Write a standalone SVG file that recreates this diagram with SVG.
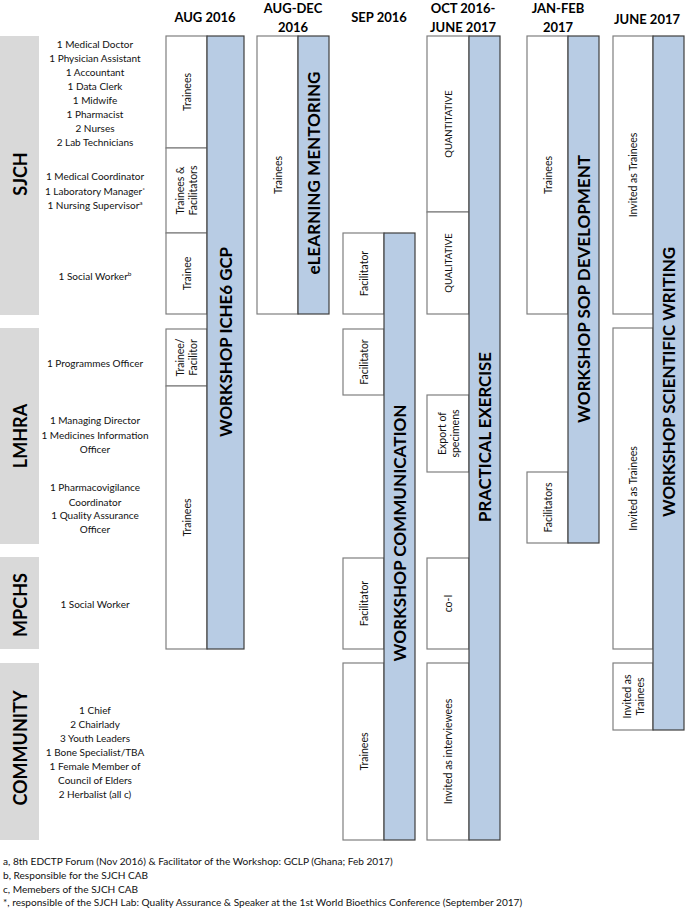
<svg xmlns="http://www.w3.org/2000/svg" width="685" height="910" viewBox="0 0 685 910">
<style>
.bg{fill:#ffffff}
.grp{fill:#d9d9d9}
.wb{fill:#ffffff;stroke:#7f7f7f;stroke-width:1.2}
.bb{fill:#b8cce4;stroke:#3f3f3f;stroke-width:1.2}
.hd{font-family:Lato,"Liberation Sans",sans-serif;font-weight:bold;font-size:13px;fill:#000;text-anchor:middle}
.gl{font-family:Lato,"Liberation Sans",sans-serif;font-weight:bold;font-size:18px;fill:#000;text-anchor:middle;dominant-baseline:central}
.lb{font-family:Lato,"Liberation Sans",sans-serif;font-size:10px;fill:#111;text-anchor:middle}
.rl{font-family:Lato,"Liberation Sans",sans-serif;font-size:10.5px;fill:#111;text-anchor:middle;dominant-baseline:central}
.rs{font-family:Lato,"Liberation Sans",sans-serif;font-size:9.5px;fill:#111;text-anchor:middle;dominant-baseline:central}
.bl{font-family:Lato,"Liberation Sans",sans-serif;font-weight:bold;font-size:17px;fill:#000;text-anchor:middle;dominant-baseline:central}
.fn{font-family:Lato,"Liberation Sans",sans-serif;font-size:10.1px;fill:#111}
.sup{font-size:6.5px}
</style>
<rect class="bg" x="0" y="0" width="685" height="910"/>

<g id="headers">
<text class="hd" x="205" y="22">AUG 2016</text>
<text class="hd" x="293" y="13">AUG-DEC</text>
<text class="hd" x="293" y="32">2016</text>
<text class="hd" x="379" y="22">SEP 2016</text>
<text class="hd" x="463" y="13">OCT 2016-</text>
<text class="hd" x="463" y="32">JUNE 2017</text>
<text class="hd" x="558" y="13">JAN-FEB</text>
<text class="hd" x="558" y="32">2017</text>
<text class="hd" x="647" y="24">JUNE 2017</text>
</g>

<g id="group-sjch">
<rect class="grp" x="0" y="36" width="39" height="279"/>
<text class="gl" transform="rotate(-90 20 174)" x="20" y="174">SJCH</text>
<text class="lb" x="95" y="48">1 Medical Doctor</text>
<text class="lb" x="95" y="62">1 Physician Assistant</text>
<text class="lb" x="95" y="76">1 Accountant</text>
<text class="lb" x="95" y="90">1 Data Clerk</text>
<text class="lb" x="95" y="104">1 Midwife</text>
<text class="lb" x="95" y="118">1 Pharmacist</text>
<text class="lb" x="95" y="132">2 Nurses</text>
<text class="lb" x="95" y="146">2 Lab Technicians</text>
<text class="lb" x="95" y="180">1 Medical Coordinator</text>
<text class="lb" x="95" y="195">1 Laboratory Manager<tspan class="sup" dy="-3">*</tspan></text>
<text class="lb" x="95" y="209">1 Nursing Supervisor<tspan class="sup" dy="-4">a</tspan></text>
<text class="lb" x="95" y="280">1 Social Worker<tspan class="sup" dy="-4">b</tspan></text>
</g>

<g id="group-lmhra">
<rect class="grp" x="0" y="328" width="39" height="216"/>
<text class="gl" transform="rotate(-90 20 436)" x="20" y="436">LMHRA</text>
<text class="lb" x="95" y="367">1 Programmes Officer</text>
<text class="lb" x="95" y="424">1 Managing Director</text>
<text class="lb" x="95" y="439">1 Medicines Information</text>
<text class="lb" x="95" y="453">Officer</text>
<text class="lb" x="95" y="491">1 Pharmacovigilance</text>
<text class="lb" x="95" y="506">Coordinator</text>
<text class="lb" x="95" y="519">1 Quality Assurance</text>
<text class="lb" x="95" y="533">Officer</text>
</g>

<g id="group-mpchs">
<rect class="grp" x="0" y="557" width="39" height="92"/>
<text class="gl" transform="rotate(-90 20 605)" x="20" y="605">MPCHS</text>
<text class="lb" x="95" y="608">1 Social Worker</text>
</g>

<g id="group-community">
<rect class="grp" x="0" y="663" width="39" height="177"/>
<text class="gl" transform="rotate(-90 20 748)" x="20" y="748">COMMUNITY</text>
<text class="lb" x="95" y="714">1 Chief</text>
<text class="lb" x="95" y="728">2 Chairlady</text>
<text class="lb" x="95" y="742">3 Youth Leaders</text>
<text class="lb" x="95" y="756">1 Bone Specialist/TBA</text>
<text class="lb" x="95" y="770">1 Female Member of</text>
<text class="lb" x="95" y="784">Council of Elders</text>
<text class="lb" x="95" y="798">2 Herbalist (all c)</text>
</g>

<g id="col-aug2016">
<rect class="wb" x="166" y="36" width="41" height="112"/>
<text class="rl" transform="rotate(-90 186.5 92)" x="186.5" y="92">Trainees</text>
<rect class="wb" x="166" y="148" width="41" height="85"/>
<text class="rl" transform="rotate(-90 186.5 190.5)" x="186.5" y="190.5"><tspan x="186.5" dy="-6.5">Trainees &amp;</tspan><tspan x="186.5" dy="13">Facilitators</tspan></text>
<rect class="wb" x="166" y="233" width="41" height="81"/>
<text class="rl" transform="rotate(-90 186.5 273.5)" x="186.5" y="273.5">Trainee</text>
<rect class="wb" x="166" y="329" width="41" height="57"/>
<text class="rl" transform="rotate(-90 186.5 357.5)" x="186.5" y="357.5"><tspan x="186.5" dy="-6.5">Trainee/</tspan><tspan x="186.5" dy="13">Facilitor</tspan></text>
<rect class="wb" x="166" y="386" width="41" height="263"/>
<text class="rl" transform="rotate(-90 186.5 517.5)" x="186.5" y="517.5">Trainees</text>
<rect class="bb" x="207" y="36" width="37" height="613"/>
<text class="bl" transform="rotate(-90 225.5 342)" x="225.5" y="342" textLength="190" lengthAdjust="spacingAndGlyphs">WORKSHOP ICHE6 GCP</text>
</g>

<g id="col-augdec2016">
<rect class="wb" x="257" y="36" width="41" height="278"/>
<text class="rl" transform="rotate(-90 277.5 175)" x="277.5" y="175">Trainees</text>
<rect class="bb" x="298" y="36" width="31" height="278"/>
<text class="bl" transform="rotate(-90 313.5 173)" x="313.5" y="173" textLength="203" lengthAdjust="spacingAndGlyphs">eLEARNING MENTORING</text>
</g>

<g id="col-sep2016">
<rect class="wb" x="343" y="233" width="41" height="81"/>
<text class="rl" transform="rotate(-90 363.5 273.5)" x="363.5" y="273.5">Facilitator</text>
<rect class="wb" x="343" y="329" width="41" height="66"/>
<text class="rl" transform="rotate(-90 363.5 362)" x="363.5" y="362">Facilitator</text>
<rect class="wb" x="343" y="558" width="41" height="91"/>
<text class="rl" transform="rotate(-90 363.5 603.5)" x="363.5" y="603.5">Facilitator</text>
<rect class="wb" x="343" y="663" width="41" height="177"/>
<text class="rl" transform="rotate(-90 363.5 751.5)" x="363.5" y="751.5">Trainees</text>
<rect class="bb" x="384" y="233" width="31" height="607"/>
<text class="bl" transform="rotate(-90 399.5 533)" x="399.5" y="533" textLength="257" lengthAdjust="spacingAndGlyphs">WORKSHOP COMMUNICATION</text>
</g>

<g id="col-oct2016-june2017">
<rect class="wb" x="427" y="36" width="42" height="176"/>
<text class="rs" transform="rotate(-90 448 124)" x="448" y="124">QUANTITATIVE</text>
<rect class="wb" x="427" y="212" width="42" height="102"/>
<text class="rs" transform="rotate(-90 448 263)" x="448" y="263">QUALITATIVE</text>
<rect class="wb" x="427" y="395" width="42" height="77"/>
<text class="rl" transform="rotate(-90 448 433.5)" x="448" y="433.5"><tspan x="448" dy="-6.5">Export of</tspan><tspan x="448" dy="13">specimens</tspan></text>
<rect class="wb" x="427" y="558" width="42" height="91"/>
<text class="rl" transform="rotate(-90 448 603.5)" x="448" y="603.5">co-I</text>
<rect class="wb" x="427" y="663" width="42" height="177"/>
<text class="rl" transform="rotate(-90 448 751.5)" x="448" y="751.5">Invited as interviewees</text>
<rect class="bb" x="469" y="36" width="31" height="804"/>
<text class="bl" transform="rotate(-90 484.5 437)" x="484.5" y="437" textLength="170" lengthAdjust="spacingAndGlyphs">PRACTICAL EXERCISE</text>
</g>

<g id="col-janfeb2017">
<rect class="wb" x="527" y="36" width="41" height="278"/>
<text class="rl" transform="rotate(-90 547.5 175)" x="547.5" y="175">Trainees</text>
<rect class="wb" x="527" y="472" width="41" height="71"/>
<text class="rl" transform="rotate(-90 547.5 507.5)" x="547.5" y="507.5">Facilitators</text>
<rect class="bb" x="568" y="36" width="31" height="507"/>
<text class="bl" transform="rotate(-90 583.5 289)" x="583.5" y="289" textLength="268" lengthAdjust="spacingAndGlyphs">WORKSHOP SOP DEVELOPMENT</text>
</g>

<g id="col-june2017">
<rect class="wb" x="613" y="36" width="40" height="278"/>
<text class="rl" transform="rotate(-90 633 175)" x="633" y="175">Invited as Trainees</text>
<rect class="wb" x="613" y="328" width="40" height="321"/>
<text class="rl" transform="rotate(-90 633 488.5)" x="633" y="488.5">Invited as Trainees</text>
<rect class="wb" x="613" y="663" width="40" height="67"/>
<text class="rl" transform="rotate(-90 633 696.5)" x="633" y="696.5"><tspan x="633" dy="-6.5">Invited as</tspan><tspan x="633" dy="13">Trainees</tspan></text>
<rect class="bb" x="653" y="36" width="31" height="694"/>
<text class="bl" transform="rotate(-90 668.5 382)" x="668.5" y="382" textLength="270" lengthAdjust="spacingAndGlyphs">WORKSHOP SCIENTIFIC WRITING</text>
</g>

<g id="connectors"></g>

<g id="footnotes">
<text class="fn" x="3" y="865">a, 8th EDCTP Forum (Nov 2016) &amp; Facilitator of the Workshop: GCLP (Ghana; Feb 2017)</text>
<text class="fn" x="3" y="879">b, Responsible for the SJCH CAB</text>
<text class="fn" x="3" y="893">c, Memebers of the SJCH CAB</text>
<text class="fn" x="3" y="906">*, responsible of the SJCH Lab: Quality Assurance &amp; Speaker at the 1st World Bioethics Conference (September 2017)</text>
</g>
</svg>
